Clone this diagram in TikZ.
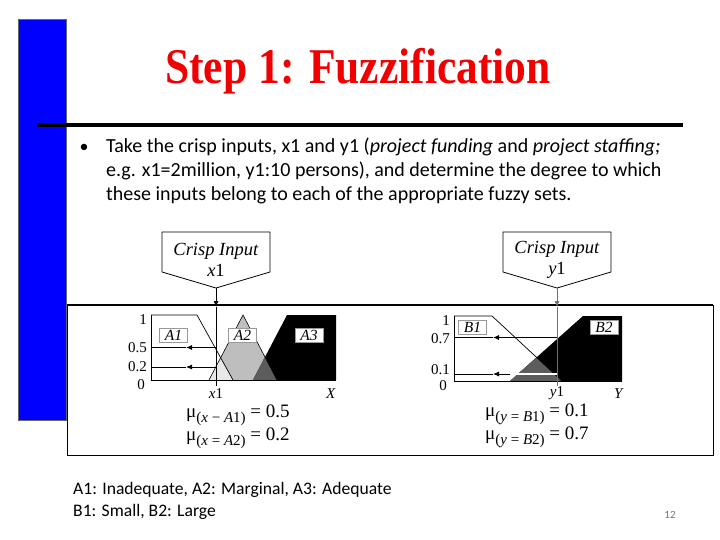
\documentclass[tikz,border=0pt]{standalone}
\usepackage{fontspec}
\setmainfont{Liberation Serif}
\newfontfamily\calibri{Carlito}
\usetikzlibrary{arrows.meta}
\definecolor{slideblue}{HTML}{0000FF}
\definecolor{titlered}{HTML}{F00000}
\definecolor{lgray}{HTML}{BEBEBE}
\definecolor{vlgray}{HTML}{E8E8E8}
\definecolor{dgray}{HTML}{5C5C5C}
\definecolor{ygray}{HTML}{707070}
\begin{document}
\begin{tikzpicture}[x=1pt,y=-1pt,
  tip/.style={-{Latex[length=6pt,width=5pt]}},
  lab/.style={font=\fontsize{15}{15}\selectfont, inner sep=0pt},
  setbox/.style={draw=black!40, line width=0.4pt, fill=white, minimum width=28pt, minimum height=14pt, inner sep=0pt, font=\itshape\fontsize{15.5}{15.5}\selectfont},
  crisp/.style={align=center, font=\fontsize{18.5}{22}\selectfont, inner sep=0pt},
  mu/.style={anchor=base west, font=\fontsize{19}{19}\selectfont, inner sep=0pt},
  body/.style={anchor=base west, font=\calibri\fontsize{20}{24}\selectfont, inner sep=0pt},
  foot/.style={anchor=base west, font=\calibri\fontsize{17.6}{20}\selectfont, inner sep=0pt}]
\useasboundingbox (0,0) rectangle (720,540);
\fill[white] (0,0) rectangle (720,540);
% blue bar
\fill[slideblue, draw=black!60, line width=0.5pt] (18,19) rectangle (66,420);
% title
\node[anchor=base, text=titlered, font=\bfseries\fontsize{50}{50}\selectfont, inner sep=0pt] (title) at (358,84) {\scalebox{0.87}[1]{Step 1: Fuzzification}};
% header rule
\draw[line width=4pt] (37,125) -- (683,125);
% bullet text
\node[anchor=base, font=\calibri\fontsize{18}{24}\selectfont, inner sep=0pt] (bul) at (84,153) {•};
\node[body] (l1) at (106,153) {Take the crisp inputs, x1 and y1 (\textit{project funding} and \textit{project staffing;}};
\node[body] (l2) at (106,177) {e.g. x1=2million, y1:10 persons), and determine the degree to which};
\node[body] (l3) at (106,201) {these inputs belong to each of the appropriate fuzzy sets.};
% frame
\draw[fill=white, line width=1pt] (67,305) rectangle (713,455);
\draw[line width=2.5pt] (67,305) -- (713,305);

% ---------- left graph ----------
\fill[lgray] (209,380) -- (243,315) -- (277,380) -- cycle;
\fill[black] (253,380) -- (287,315) -- (336,315) -- (336,380) -- cycle;
\begin{scope}
  \clip (209,380) -- (243,315) -- (277,380) -- cycle;
  \fill[dgray] (253,380) -- (287,315) -- (336,315) -- (336,380) -- cycle;
\end{scope}
\begin{scope}
  \clip (151,315) -- (197,315) -- (233,380) -- (151,380) -- cycle;
  \fill[vlgray] (209,380) -- (243,315) -- (277,380) -- cycle;
\end{scope}
\draw[line width=0.7pt] (151,315) -- (197,315) -- (233,380);
\draw[line width=0.6pt] (209,380) -- (243,315) -- (277,380);
\draw[line width=0.8pt] (151,315) -- (151,380) -- (336,380);
\node[setbox] (a1) at (173.5,335) {A1};
\node[setbox] (a2) at (242.5,335) {A2};
\node[setbox] (a3) at (309,335) {A3};
\coordinate (h5) at (216,347.5);
\coordinate (h5m) at (186,347.5);
\coordinate (h5e) at (151,347.5);
\coordinate (h2) at (216,367);
\coordinate (h2m) at (186,367);
\coordinate (h2e) at (151,367);
\draw[tip, line width=0.8pt] (h5) -- (h5m);
\draw[line width=0.8pt] (h5m) -- (h5e);
\draw[tip, line width=0.8pt] (h2) -- (h2m);
\draw[line width=0.8pt] (h2m) -- (h2e);
\node[lab, anchor=east] (t1) at (147,320) {1};
\node[lab, anchor=east] (t05) at (147,348) {0.5};
\node[lab, anchor=east] (t02) at (147,367) {0.2};
\node[lab, anchor=east] (t0) at (145,385) {0};
\node[lab] (xl) at (216,394) {\textit{x}1};
\node[lab] (Xl) at (331,394) {\textit{X}};

% crisp box x1
\draw[line width=0.8pt, fill=white] (162,232) -- (270,232) -- (270,272) -- (216,288) -- (162,272) -- cycle;
\coordinate (tipx) at (216,288);
\node[crisp] (cx) at (216,260) {\textit{Crisp Input}\\[-1pt]\textit{x}1};
\coordinate (fx) at (216,307);
\coordinate (ex) at (216,386);
\draw[tip, line width=0.8pt] (tipx) -- (fx);
\draw[line width=0.8pt] (fx) -- (ex);

% ---------- right graph ----------
\fill[black] (510,381) -- (583,316) -- (622,316) -- (622,381) -- cycle;
\begin{scope}
  \clip (454,316) -- (492,316) -- (562,381) -- (454,381) -- cycle;
  \fill[dgray] (510,381) -- (583,316) -- (622,316) -- (622,381) -- cycle;
\end{scope}
\draw[line width=0.7pt] (454,316) -- (492,316) -- (562,381);
\draw[line width=0.8pt] (454,316) -- (454,381) -- (622,381);
\node[setbox] (b1) at (472.5,327.5) {B1};
\node[setbox] (b2) at (604,327.5) {B2};
\coordinate (g7) at (557,337.5);
\coordinate (g7m) at (493,337.5);
\coordinate (g7e) at (454,337.5);
\coordinate (g1) at (557,374);
\coordinate (g1w) at (510,374);
\coordinate (g1m) at (493,374);
\coordinate (g1e) at (454,374);
\draw[tip, line width=0.8pt] (g7) -- (g7m);
\draw[line width=0.8pt] (g7m) -- (g7e);
\draw[white, line width=1.2pt] (g1) -- (g1w);
\draw[tip, line width=0.8pt] (g1w) -- (g1m);
\draw[line width=0.8pt] (g1m) -- (g1e);
\node[lab, anchor=east] (r1) at (450,321) {1};
\node[lab, anchor=east] (r07) at (450,339) {0.7};
\node[lab, anchor=east] (r01) at (450,369.5) {0.1};
\node[lab, anchor=east] (r0) at (447,386) {0};
\node[lab] (yl) at (557,393.5) {\textit{y}1};
\node[lab] (Yl) at (619,393.5) {\textit{Y}};

% crisp box y1
\draw[line width=0.8pt, fill=white] (503,232) -- (611,232) -- (611,272) -- (557,288) -- (503,272) -- cycle;
\coordinate (tipy) at (557,288);
\node[crisp] (cy) at (557,260) {\textit{Crisp Input}\\[-1pt]\textit{y}1};
\coordinate (fy) at (557,307);
\coordinate (ey) at (557,386);
\draw[tip, line width=0.8pt, draw=ygray] (tipy) -- (fy);
\draw[line width=0.8pt, ygray] (fy) -- (ey);

% membership values
\node[mu] (m1) at (186,417) {μ\raisebox{-5pt}{\fontsize{15}{15}\selectfont(\textit{x} − \textit{A}1)} = 0.5};
\node[mu] (m2) at (186,440) {μ\raisebox{-5pt}{\fontsize{15}{15}\selectfont(\textit{x} = \textit{A}2)} = 0.2};
\node[mu] (m3) at (485,416) {μ\raisebox{-5pt}{\fontsize{15}{15}\selectfont(\textit{y} = \textit{B}1)} = 0.1};
\node[mu] (m4) at (485,439) {μ\raisebox{-5pt}{\fontsize{15}{15}\selectfont(\textit{y} = \textit{B}2)} = 0.7};

% footer
\node[foot] (f1) at (73,494) {A1: Inadequate, A2: Marginal, A3: Adequate};
\node[foot] (f2) at (73,516) {B1: Small, B2: Large};
\node[text=black!55, font=\calibri\fontsize{11}{11}\selectfont, inner sep=0pt] (pg) at (670,515) {12};
\end{tikzpicture}
\end{document}
